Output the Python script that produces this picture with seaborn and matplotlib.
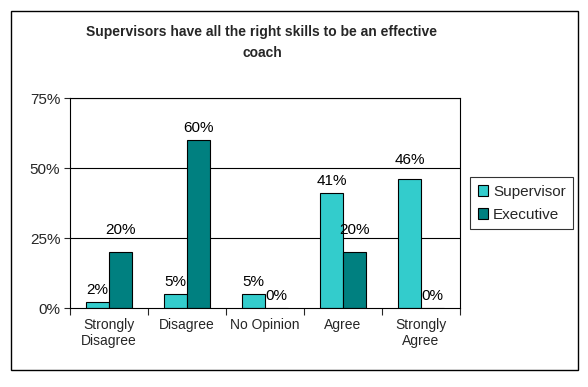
import numpy as np
import pandas as pd
import seaborn as sns
from matplotlib import pyplot as plt
from matplotlib.patches import Rectangle

categories = ["Strongly\nDisagree", "Disagree", "No Opinion", "Agree", "Strongly\nAgree"]
supervisor = [2, 5, 5, 41, 46]
executive = [20, 60, 0, 20, 0]
series = ["Supervisor", "Executive"]
colors = ["#33CCCC", "#008080"]
yticks = [0, 25, 50, 75]

df = pd.DataFrame({
    "category": categories * 2,
    "value": supervisor + executive,
    "series": [series[0]] * len(categories) + [series[1]] * len(categories),
})

sns.set_style("white")
plt.rcParams['font.family'] = ['Liberation Sans', 'DejaVu Sans']

fig = plt.figure(figsize=(5.88, 3.87), dpi=100)
ax = fig.add_axes([70 / 588, 1 - 308 / 387, 390 / 588, 210 / 387])

sns.barplot(data=df, x="category", y="value", hue="series", palette=colors, saturation=1,
            width=0.58, edgecolor="black", linewidth=0.8, ax=ax, legend=False)

# data labels, pushed above a gridline when they would sit on it (like Excel does)
gap, txt_h = 3.0, 4.0
for cont in ax.containers:
    for bar in cont:
        v = bar.get_height()
        y = v + gap
        for t in yticks[1:]:
            if v < t < v + gap + txt_h:
                y = t + 1.5
        ax.text(bar.get_x() + bar.get_width() / 2, y, f"{v:.0f}%",
                ha="center", va="baseline", fontsize=11, color="black")

ax.set_ylim(0, 75)
ax.set_yticks(yticks)
ax.set_yticklabels([f"{t}%" for t in yticks])
ax.set_xlim(-0.5, len(categories) - 0.5)
for t in yticks[1:]:
    ax.axhline(t, color="black", linewidth=0.8, zorder=0)

ax.set_xlabel("")
ax.set_ylabel("")
ax.tick_params(axis="x", length=0, labelsize=10, pad=7)
ax.tick_params(axis="y", left=True, length=4, width=0.8, labelsize=11, pad=3)
ax.set_xticks(np.arange(len(categories) + 1) - 0.5, minor=True)
ax.tick_params(axis="x", which="minor", bottom=True, length=5, width=0.8)
for s in ax.spines.values():
    s.set_color("black")
    s.set_linewidth(0.8)

fig.text(262 / 588, 1 - 25 / 387, "Supervisors have all the right skills to be an effective\ncoach",
         ha="center", va="top", fontsize=10, fontweight="bold", linespacing=1.65)

handles = [Rectangle((0, 0), 1, 1, facecolor=c, edgecolor="black", linewidth=0.8) for c in colors]
leg = fig.legend(handles, series, loc="upper left", bbox_to_anchor=(470 / 588, 1 - 177 / 387),
                 fontsize=11, frameon=True, fancybox=False, handlelength=0.7, handleheight=0.7,
                 handletextpad=0.3, borderpad=0.5, labelspacing=0.6, borderaxespad=0)
leg.get_frame().set_edgecolor("black")
leg.get_frame().set_linewidth(0.8)

fig.patches.append(Rectangle((11 / 588, 1 - 370 / 387), 567 / 588, 359 / 387,
                             transform=fig.transFigure, fill=False, edgecolor="black", linewidth=1))

fig.savefig("out.png", dpi=100)
